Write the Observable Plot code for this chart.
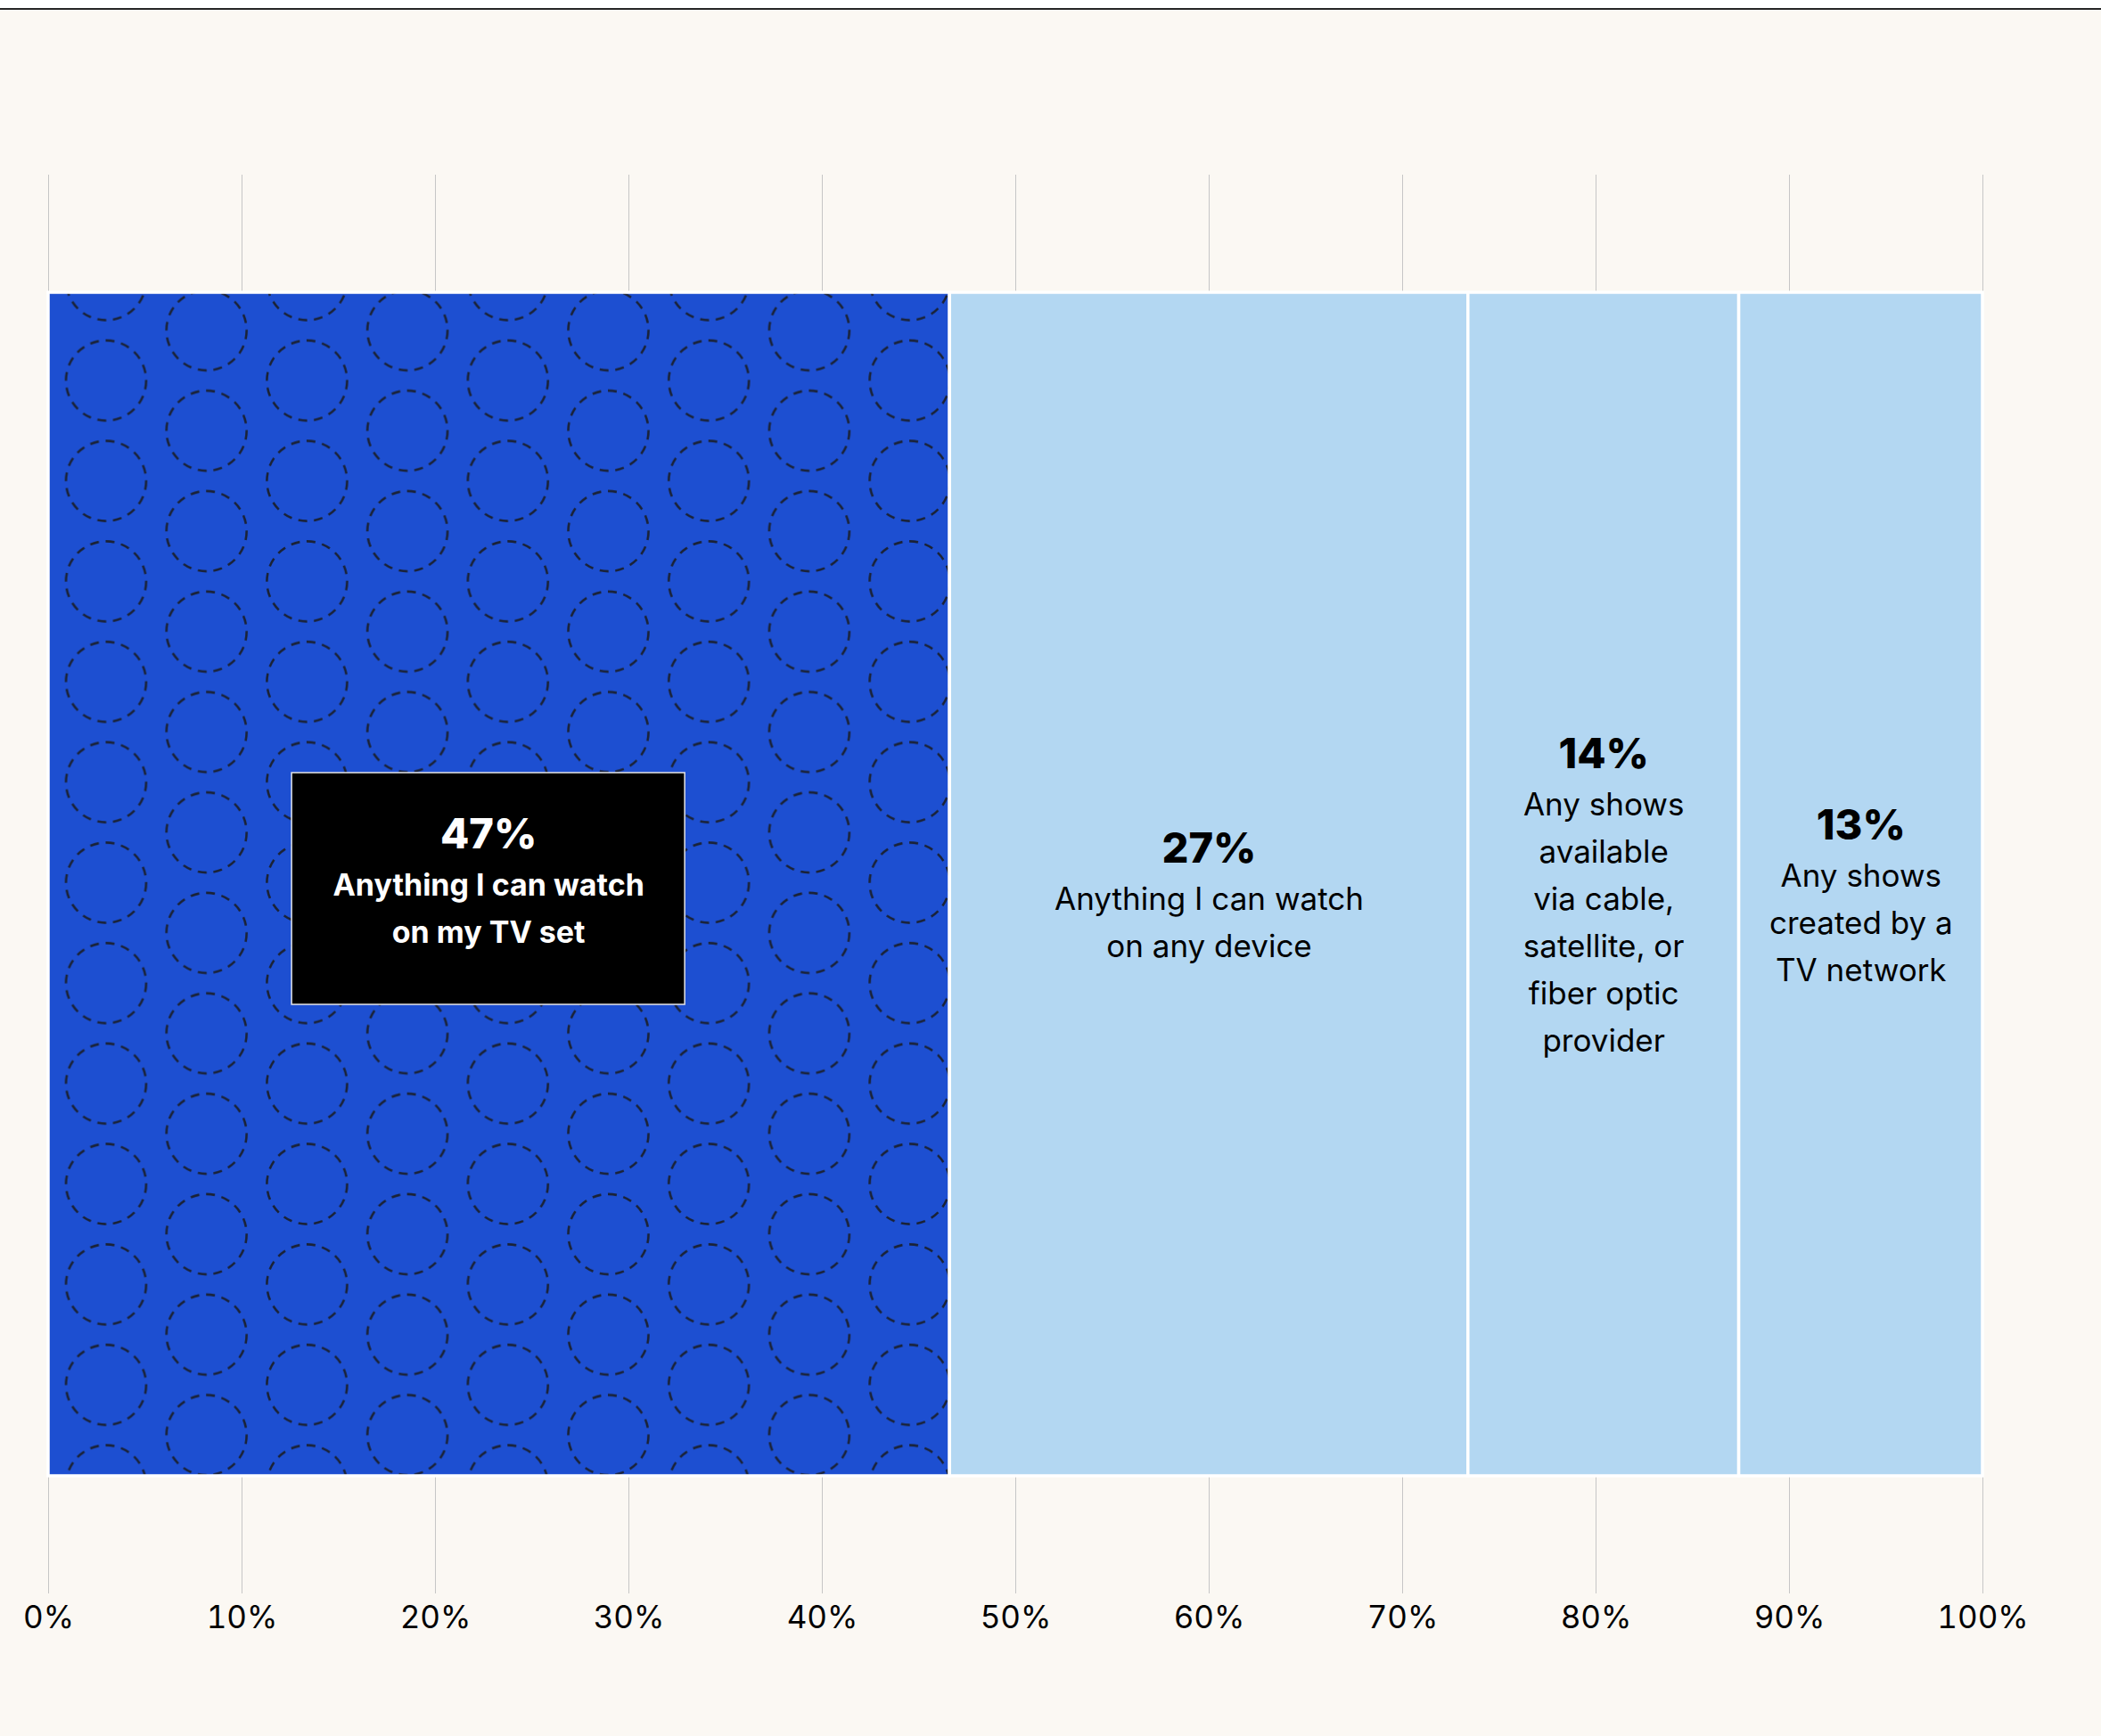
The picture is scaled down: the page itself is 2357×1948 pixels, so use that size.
<!DOCTYPE html>
<html><head><meta charset="utf-8">
<script src="https://cdn.jsdelivr.net/npm/d3@7"></script>
<script src="https://cdn.jsdelivr.net/npm/@observablehq/plot@0.6"></script>
<style>
html,body{margin:0;padding:0;background:#FBF8F3;}
#topbar{height:9px;background:#ffffff;border-bottom:2px solid #262626;}
#chart svg{display:block;}
</style></head><body>
<div id="topbar"></div>
<div id="chart"></div>
<script>
// ---- data ----
const categories = [
  "Anything I can watch on my TV set",
  "Anything I can watch on any device",
  "Any shows available via cable, satellite, or fiber optic provider",
  "Any shows created by a TV network"
];
const values = [46.6, 26.8, 14.0, 12.6];
const labelLines = [
  "Anything I can watch\non my TV set",
  "Anything I can watch\non any device",
  "Any shows\navailable\nvia cable,\nsatellite, or\nfiber optic\nprovider",
  "Any shows\ncreated by a\nTV network"
];
const tickValues = [0, 0.1, 0.2, 0.3, 0.4, 0.5, 0.6, 0.7, 0.8, 0.9, 1];
const tickLabels = ["0%", "10%", "20%", "30%", "40%", "50%", "60%", "70%", "80%", "90%", "100%"];

// ---- styles ----
const segmentFills = ["url(#tv-circles)", "#B3D7F2", "#B3D7F2", "#B3D7F2"];
const blue = "#1D4FD1";
const font = "Inter, 'Open Sans', sans-serif";
const topOffset = 11;

const data = categories.map((c, i) => ({
  category: c,
  value: values[i],
  pct: Math.round(values[i]) + "%",
  desc: labelLines[i],
  nLines: labelLines[i].split("\n").length,
  fill: segmentFills[i],
  boxed: i === 0
}));
const labelFor = new Map(tickValues.map((v, i) => [v, tickLabels[i]]));
const total = d3.sum(values);

const W = 2357, H = 1948 - topOffset;
const stackOpts = {x: "value", offset: "normalize", y: 0.5};

const plot = Plot.plot({
  width: W,
  height: H,
  marginLeft: 54,
  marginRight: 133,
  marginTop: 317,
  marginBottom: 292,
  style: {background: "#FBF8F3", fontFamily: font, color: "#000", overflow: "visible"},
  x: {domain: [0, 1], label: null},
  y: {domain: [0, 1], axis: null},
  color: {type: "identity"},
  marks: [
    Plot.axisX({anchor: "top", ticks: tickValues, tickSize: 133, tickFormat: () => "", stroke: "#c6c6c6", label: null}),
    Plot.axisX({anchor: "bottom", ticks: tickValues, tickSize: 132, tickPadding: 14,
      tickFormat: d => labelFor.get(d), fontSize: 35, fill: "#000", stroke: "#c6c6c6", label: null}),
    Plot.rectX(data, Plot.stackX({x: "value", offset: "normalize", y1: 0, y2: 1,
      fill: d => d.fill, stroke: "white", strokeWidth: 3.5})),
    // light segments: percentage + description
    Plot.text(data, Plot.stackX({...stackOpts,
      text: d => d.boxed ? null : d.pct + "\n".repeat(d.nLines),
      fontSize: 47, fontWeight: 800, lineHeight: 53 / 47, dy: 12, fill: "#000"})),
    Plot.text(data, Plot.stackX({...stackOpts,
      text: d => d.boxed ? null : "\n" + d.desc,
      fontSize: 35, fontWeight: 400, lineHeight: 53 / 35, dy: 12, fill: "#000"})),
    // boxed segment
    Plot.text(data, Plot.stackX({...stackOpts,
      text: d => d.boxed ? d.pct + "\n".repeat(d.nLines) : null,
      fontSize: 47, fontWeight: 800, lineHeight: 53 / 47, dx: -12, dy: -4, fill: "#fff"})),
    Plot.text(data, Plot.stackX({...stackOpts,
      text: d => d.boxed ? "\n" + d.desc : null,
      fontSize: 34, fontWeight: 700, lineHeight: 53 / 34, dx: -12, dy: -4, fill: "#fff"}))
  ]
});

// pattern for the first segment
const ns = "http://www.w3.org/2000/svg";
const defs = document.createElementNS(ns, "defs");
const step = 112.7, r = 45;
const py = 427 - topOffset - step / 2;
defs.innerHTML = `<pattern id="tv-circles" patternUnits="userSpaceOnUse" x="${119 - step / 2}" y="${py}" width="${2 * step}" height="${step}">
  <rect x="0" y="0" width="${2 * step}" height="${step}" fill="${blue}"/>
  <g fill="none" stroke="#1a2236" stroke-width="2.6" stroke-dasharray="10 7.6">
    <circle cx="${step / 2}" cy="${step / 2}" r="${r}"/>
    <circle cx="${1.5 * step}" cy="0" r="${r}"/>
    <circle cx="${1.5 * step}" cy="${step}" r="${r}"/>
  </g>
</pattern>`;
plot.insertBefore(defs, plot.firstChild);

// black label box, placed right after the bar mark (below all text)
const xs = plot.scale("x"), ys = plot.scale("y");
const mid0 = (values[0] / total) / 2;
const cx = xs.apply(mid0) - 12, cy = ys.apply(0.5) + 5;
const box = document.createElementNS(ns, "rect");
box.setAttribute("x", cx - 220.5);
box.setAttribute("y", cy - 130);
box.setAttribute("width", 441);
box.setAttribute("height", 260);
box.setAttribute("fill", "#000");
box.setAttribute("stroke", "#e6e6e6");
box.setAttribute("stroke-width", "1.5");
let barG = plot.querySelector('rect[fill="url(#tv-circles)"]');
while (barG && barG.parentNode !== plot) barG = barG.parentNode;
if (barG) plot.insertBefore(box, barG.nextSibling); else plot.appendChild(box);

document.getElementById("chart").appendChild(plot);
</script>
</body></html>
